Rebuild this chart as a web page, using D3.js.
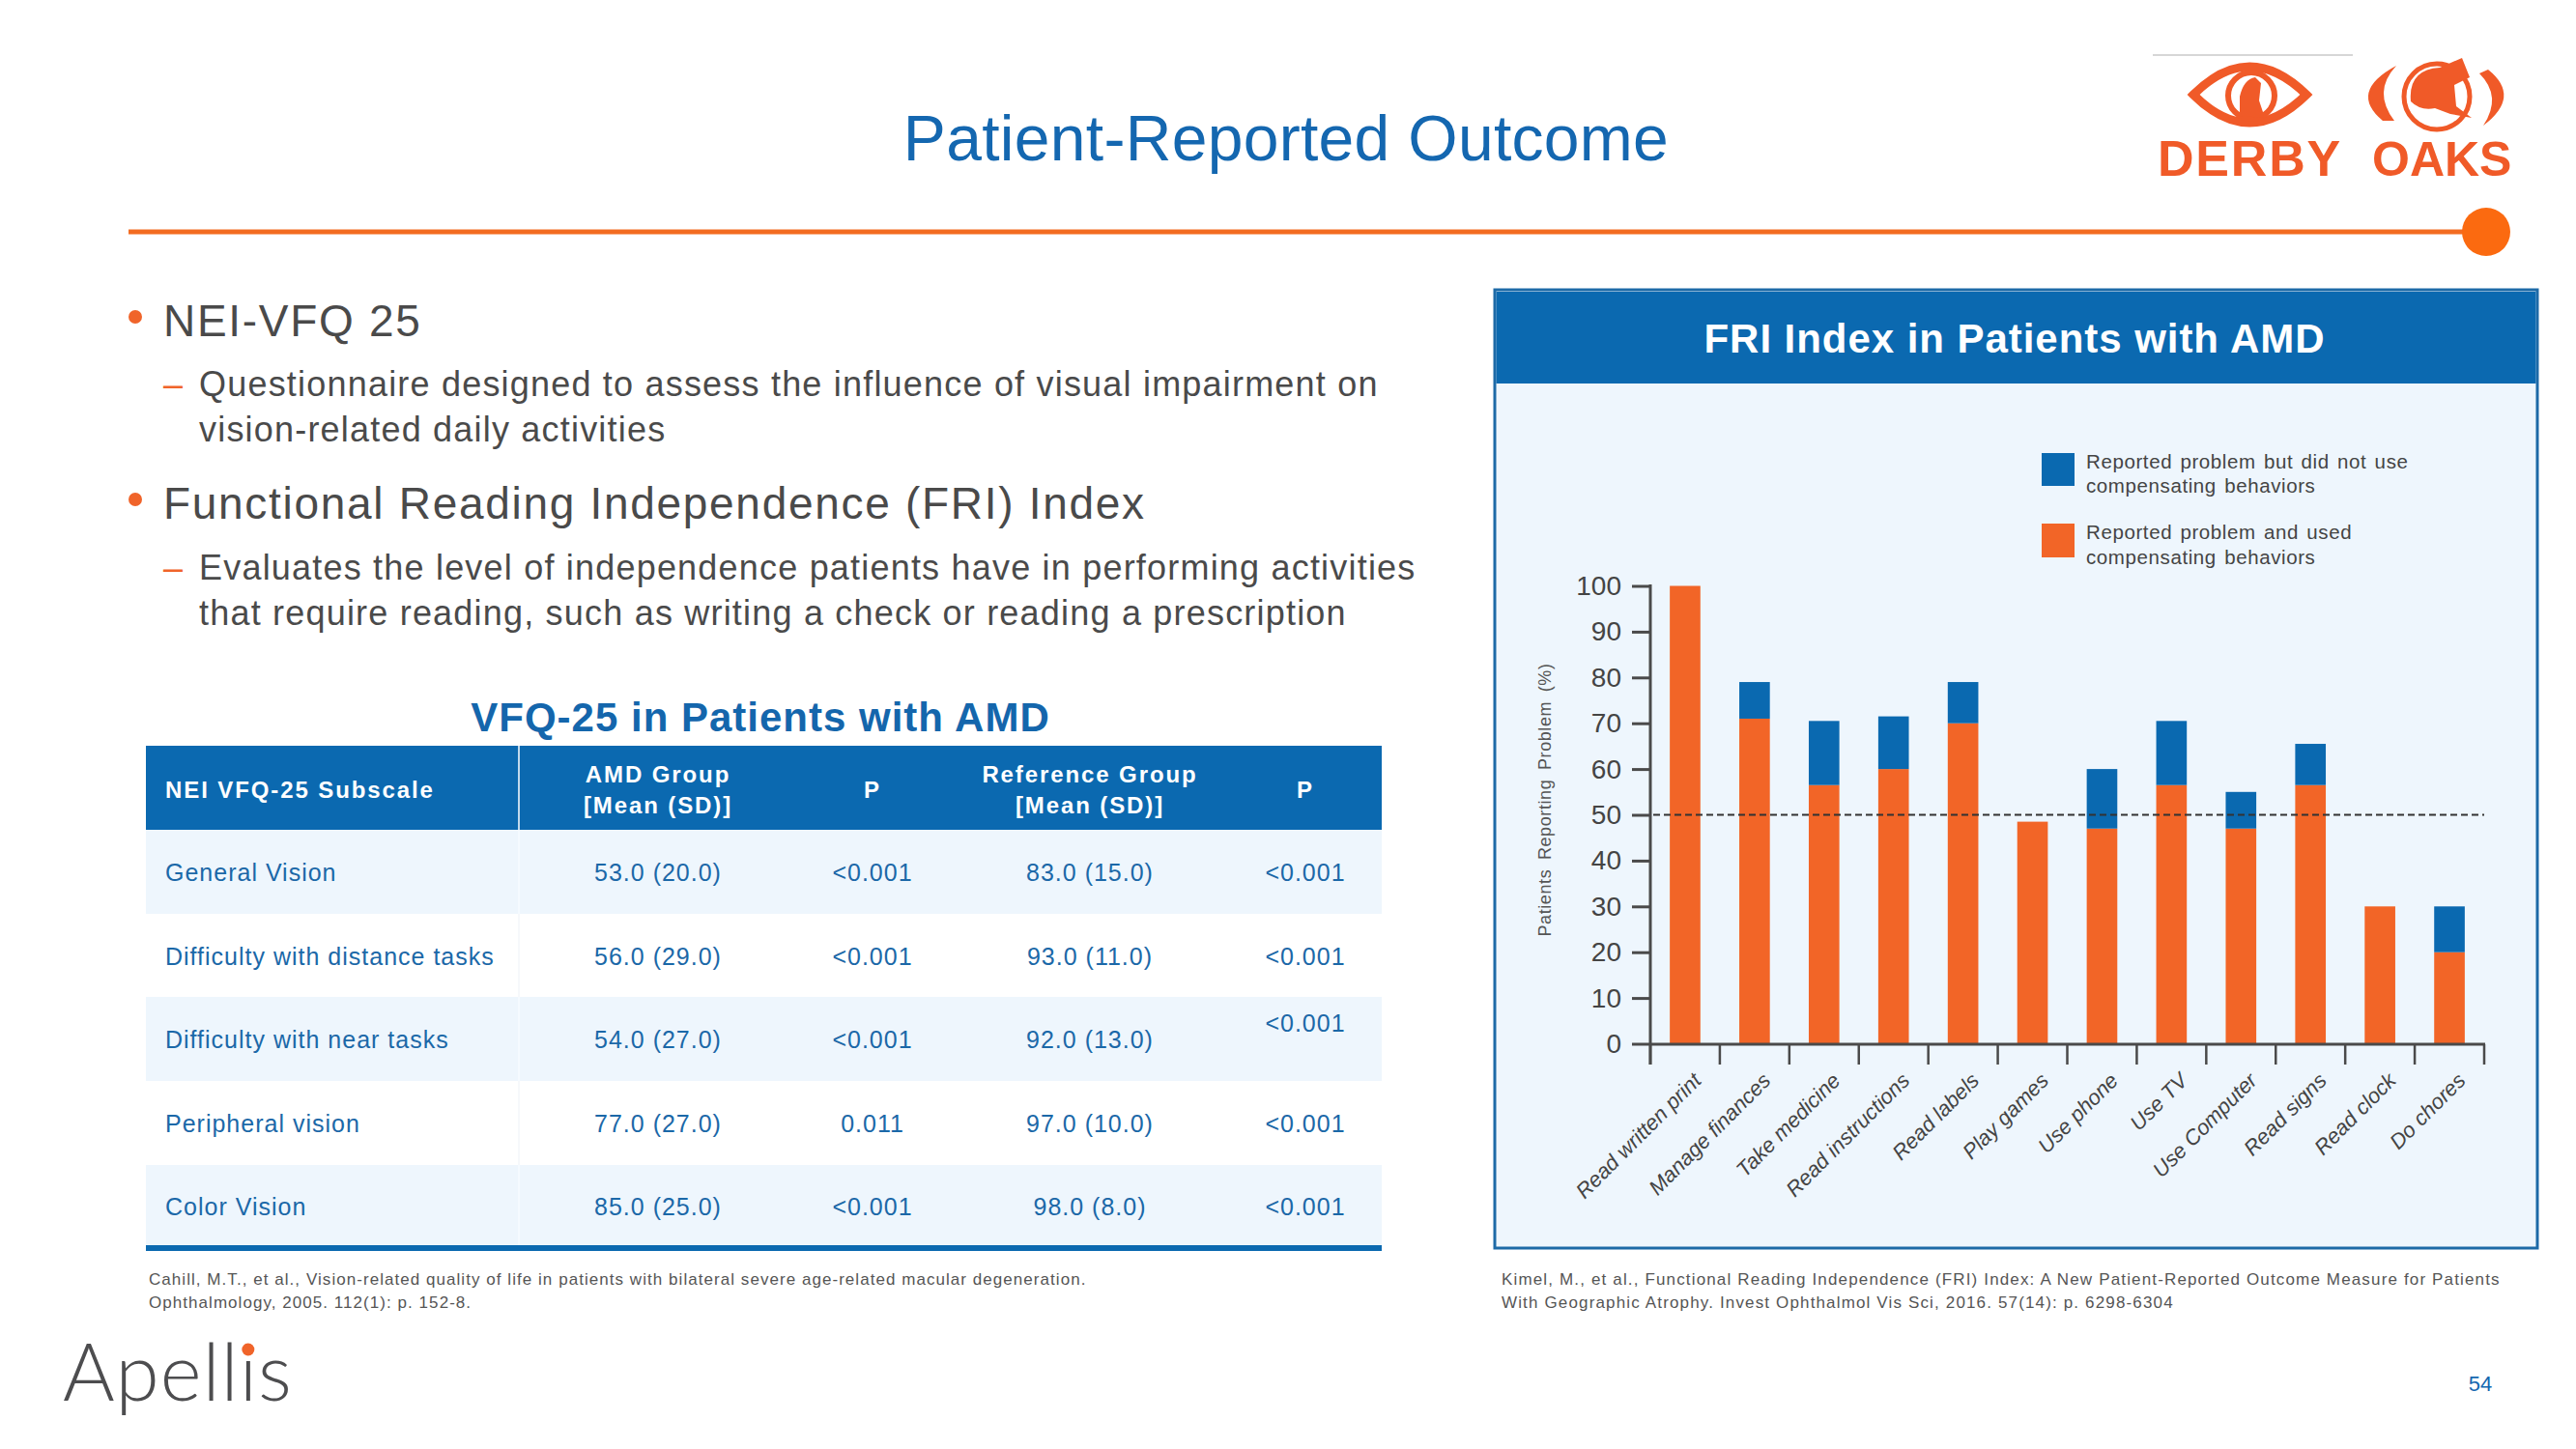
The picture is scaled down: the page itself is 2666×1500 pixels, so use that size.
<!DOCTYPE html>
<html><head><meta charset="utf-8">
<script src="https://cdn.jsdelivr.net/npm/d3@7"></script>
<style>
html,body{margin:0;padding:0;background:#fff;}
svg{display:block;}
text{font-family:"Liberation Sans",Arial,Helvetica,sans-serif;}
</style>
</head><body>
<svg id="c" width="2666" height="1500"></svg>
<script>
// ---------- DATA ----------
const categories = ["Read written print","Manage finances","Take medicine","Read instructions","Read labels","Play games","Use phone","Use TV","Use Computer","Read signs","Read clock","Do chores"];
const usedComp = [100, 71, 56.5, 60, 70, 48.5, 47, 56.5, 47, 56.5, 30, 20];   // orange
const noComp   = [0, 8, 14, 11.5, 9, 0, 13, 14, 8, 9, 0, 10];                  // blue
const yTicks = [0,10,20,30,40,50,60,70,80,90,100];
const refLine = 50;
const legendBlue = ["Reported problem  but did not use","compensating behaviors"];
const legendOrange = ["Reported problem  and used","compensating behaviors"];

const tableHeader = [["NEI VFQ-25 Subscale"],["AMD Group","[Mean (SD)]"],["P"],["Reference Group","[Mean (SD)]"],["P"]];
const subscales = ["General Vision","Difficulty with distance tasks","Difficulty with near tasks","Peripheral vision","Color Vision"];
const amdGroup = ["53.0 (20.0)","56.0 (29.0)","54.0 (27.0)","77.0 (27.0)","85.0 (25.0)"];
const pAmd = ["<0.001","<0.001","<0.001","0.011","<0.001"];
const refGroup = ["83.0 (15.0)","93.0 (11.0)","92.0 (13.0)","97.0 (10.0)","98.0 (8.0)"];
const pRef = ["<0.001","<0.001","<0.001","<0.001","<0.001"];

// ---------- STYLE ----------
const BLUE = "#0b69b0", ORANGE = "#f0642a", TXT = "#4a4a4a", TBLUE = "#1b68a8", LIGHT = "#eef6fd";
const svg = d3.select("#c");

// ---------- PAGE HEADER ----------
svg.append("text").attr("x",1331).attr("y",166).attr("text-anchor","middle")
  .attr("font-size",66).attr("fill","#1467b0").attr("letter-spacing",0.3).text("Patient-Reported Outcome");
svg.append("line").attr("x1",133).attr("x2",2560).attr("y1",240).attr("y2",240)
  .attr("stroke","#f36c21").attr("stroke-width",5);
svg.append("circle").attr("cx",2573).attr("cy",240).attr("r",25).attr("fill","#fb6a10");

// Derby Oaks logo (simplified)
const logo = svg.append("g");
logo.append("line").attr("x1",2228).attr("x2",2435).attr("y1",57).attr("y2",57).attr("stroke","#c8c8c8").attr("stroke-width",1.5);
logo.append("path").attr("d","M2270,98 Q2328,40 2387,98 Q2328,156 2270,98 Z")
  .attr("fill","none").attr("stroke","#f05a28").attr("stroke-width",9);
logo.append("circle").attr("cx",2330).attr("cy",99).attr("r",24).attr("fill","none").attr("stroke","#f05a28").attr("stroke-width",6);
logo.append("path").attr("d","M2318,120 L2318,100 Q2322,82 2334,80 L2340,86 L2338,104 L2344,122 Z").attr("fill","#f05a28");
logo.append("path").attr("d","M2466,125 Q2430,95 2480,68 Q2455,95 2478,125 Z").attr("fill","#f05a28");
logo.append("path").attr("d","M2575,72 Q2610,100 2570,130 Q2590,100 2566,76 Z").attr("fill","#f05a28");
logo.append("circle").attr("cx",2522).attr("cy",100).attr("r",34).attr("fill","none").attr("stroke","#f05a28").attr("stroke-width",5);
logo.append("path").attr("d","M2495,105 Q2492,72 2525,70 L2548,60 L2556,80 L2540,88 L2542,110 L2558,122 L2536,118 L2520,112 Q2505,115 2495,105 Z").attr("fill","#f05a28");
logo.append("text").attr("x",2233).attr("y",182).attr("font-size",52).attr("font-weight","bold")
  .attr("fill","#f05a28").attr("letter-spacing",1.8).text("DERBY");
logo.append("text").attr("x",2455).attr("y",182).attr("font-size",50).attr("font-weight","bold")
  .attr("fill","#f05a28").attr("letter-spacing",0).text("OAKS");

// ---------- BULLETS ----------
const bul = svg.append("g").attr("fill",TXT);
function bullet(y, txt){
  svg.append("circle").attr("cx",140).attr("cy",y-20).attr("r",7).attr("fill",ORANGE);
  bul.append("text").attr("x",169).attr("y",y).attr("font-size",46).attr("letter-spacing",1.7).text(txt);
}
function sub(y, lines){
  svg.append("text").attr("x",169).attr("y",y).attr("font-size",36).attr("fill",ORANGE).text("\u2013");
  lines.forEach((l,i)=> bul.append("text").attr("x",206).attr("y",y+i*47).attr("font-size",36).attr("letter-spacing",1.2).text(l));
}
bullet(348,"NEI-VFQ 25");
sub(410,["Questionnaire designed to assess the influence of visual impairment on","vision-related daily activities"]);
bullet(537,"Functional Reading Independence (FRI) Index");
sub(600,["Evaluates the level of independence patients have in performing activities","that require reading, such as writing a check or reading a prescription"]);

// ---------- TABLE ----------
svg.append("text").attr("x",787).attr("y",757).attr("text-anchor","middle").attr("font-size",42)
  .attr("font-weight","bold").attr("letter-spacing",1).attr("fill","#1466ac").text("VFQ-25 in Patients with AMD");
const tX = 151, tW = 1279, hTop = 772, hBot = 859;
const rowTops = [859, 946, 1032, 1119, 1206, 1289];
const colX = [171, 681, 903, 1128, 1351];
svg.append("rect").attr("x",tX).attr("y",hTop).attr("width",tW).attr("height",hBot-hTop).attr("fill",BLUE);
svg.append("line").attr("x1",537).attr("x2",537).attr("y1",hTop).attr("y2",hBot).attr("stroke","#ffffff").attr("stroke-width",1.5);
subscales.forEach((s,i)=>{
  svg.append("rect").attr("x",tX).attr("y",rowTops[i]).attr("width",tW).attr("height",rowTops[i+1]-rowTops[i])
    .attr("fill", i%2===0 ? LIGHT : "#ffffff");
  svg.append("line").attr("x1",537).attr("x2",537).attr("y1",rowTops[i]).attr("y2",rowTops[i+1])
    .attr("stroke", i%2===0 ? "#f7fbff" : "#f3f6fa").attr("stroke-width",1.5);
});
svg.append("rect").attr("x",tX).attr("y",1289).attr("width",tW).attr("height",6).attr("fill",BLUE);
tableHeader.forEach((h,i)=>{
  const anchor = i===0 ? "start" : "middle";
  const ys = h.length===1 ? [826] : [810, 842];
  h.forEach((line,j)=> svg.append("text").attr("x",colX[i]).attr("y",ys[j]).attr("text-anchor",anchor)
    .attr("font-size",24).attr("font-weight","bold").attr("letter-spacing",1.9).attr("fill","#ffffff").text(line));
});
const bodyBase = [912, 999, 1085, 1172, 1258];
subscales.forEach((s,i)=>{
  const cells = [s, amdGroup[i], pAmd[i], refGroup[i], pRef[i]];
  cells.forEach((c,j)=>{
    let y = bodyBase[i];
    if (i===2 && j===4) y -= 17;
    svg.append("text").attr("x",colX[j]).attr("y",y).attr("text-anchor", j===0?"start":"middle")
      .attr("font-size",25).attr("letter-spacing",1).attr("fill",TBLUE).text(c);
  });
});
const foot = svg.append("g").attr("font-size",17).attr("fill","#555");
foot.append("text").attr("x",154).attr("y",1330).attr("letter-spacing",1.05).text("Cahill, M.T., et al., Vision-related quality of life in patients with bilateral severe age-related macular degeneration.");
foot.append("text").attr("x",154).attr("y",1354).attr("letter-spacing",1.05).text("Ophthalmology, 2005. 112(1): p. 152-8.");
foot.append("text").attr("x",1554).attr("y",1330).attr("letter-spacing",1.15).text("Kimel, M., et al., Functional Reading Independence (FRI) Index: A New Patient-Reported Outcome Measure for Patients");
foot.append("text").attr("x",1554).attr("y",1354).attr("letter-spacing",1.15).text("With Geographic Atrophy. Invest Ophthalmol Vis Sci, 2016. 57(14): p. 6298-6304");

// ---------- CHART PANEL ----------
svg.append("rect").attr("x",1547).attr("y",300).attr("width",1079).attr("height",992)
  .attr("fill",LIGHT).attr("stroke","#1d6aa7").attr("stroke-width",3);
svg.append("rect").attr("x",1548.5).attr("y",302).attr("width",1076).attr("height",95).attr("fill",BLUE);
svg.append("text").attr("x",2085).attr("y",365).attr("text-anchor","middle").attr("font-size",42)
  .attr("font-weight","bold").attr("letter-spacing",0.95).attr("fill","#ffffff").text("FRI Index in Patients with AMD");

const x = d3.scaleBand().domain(categories).range([1708, 2571]).paddingInner(0.56).paddingOuter(0.28);
const y = d3.scaleLinear().domain([0,100]).range([1080.5, 606.5]);
const rows = categories.map((c,i)=>({cat:c, used:usedComp[i], no:noComp[i]}));
const stack = d3.stack().keys(["used","no"])(rows);
const colors = {used:"#f26527", no:"#0a69b0"};
const chart = svg.append("g");
stack.forEach(layer=>{
  chart.append("g").attr("fill",colors[layer.key]).selectAll("rect").data(layer).join("rect")
    .attr("x",d=>x(d.data.cat)).attr("width",x.bandwidth())
    .attr("y",d=>y(d[1])).attr("height",d=>y(d[0])-y(d[1]));
});
// dashed 50% line
chart.append("line").attr("x1",1711).attr("x2",2571).attr("y1",y(refLine)).attr("y2",y(refLine))
  .attr("stroke","#333").attr("stroke-width",2).attr("stroke-dasharray","7,4");
// y axis
const yAxis = chart.append("g").attr("transform","translate(1708,0)")
  .call(d3.axisLeft(y).tickValues(yTicks).tickSize(19).tickPadding(11).tickSizeOuter(0));
yAxis.select(".domain").remove();
yAxis.selectAll(".tick line").attr("stroke","#4a4a4a").attr("stroke-width",3);
yAxis.selectAll(".tick text").attr("font-size",28).attr("fill","#444")
  .style("font-family","'Liberation Sans',Arial,sans-serif");
chart.append("line").attr("x1",1708).attr("x2",1708).attr("y1",605).attr("y2",1102).attr("stroke","#4a4a4a").attr("stroke-width",3);
chart.append("line").attr("x1",1707).attr("x2",2572).attr("y1",1081).attr("y2",1081).attr("stroke","#4a4a4a").attr("stroke-width",3);
// x boundary ticks
const step = x.step();
d3.range(categories.length+1).forEach(i=>{
  const xx = x(categories[0]) - x.paddingOuter()*step + i*step;
  chart.append("line").attr("x1",xx).attr("x2",xx).attr("y1",1081).attr("y2",1102).attr("stroke","#4a4a4a").attr("stroke-width",2.5);
});
// x labels
chart.selectAll(".xl").data(categories).join("text")
  .attr("transform",d=>`translate(${x(d)+x.bandwidth()/2+18},1120) rotate(-45)`)
  .attr("text-anchor","end").attr("font-size",22).attr("font-style","italic").attr("fill","#444").text(d=>d);
// y label
chart.append("text").attr("transform","translate(1605,828) rotate(-90)").attr("text-anchor","middle")
  .attr("font-size",18).attr("letter-spacing",0.6).attr("word-spacing",4).attr("fill","#555")
  .text("Patients Reporting Problem (%)");
// legend
const lg = chart.append("g");
lg.append("rect").attr("x",2113).attr("y",469).attr("width",34).attr("height",34).attr("fill",colors.no);
lg.append("rect").attr("x",2113).attr("y",542).attr("width",34).attr("height",35).attr("fill",colors.used);
legendBlue.forEach((t,i)=> lg.append("text").attr("x",2159).attr("y",485+i*25).attr("font-size",20.5).attr("letter-spacing",0.6).attr("word-spacing",2).attr("fill","#444").text(t));
legendOrange.forEach((t,i)=> lg.append("text").attr("x",2159).attr("y",558+i*26).attr("font-size",20.5).attr("letter-spacing",0.6).attr("word-spacing",2).attr("fill","#444").text(t));

// ---------- FOOTER ----------
svg.append("text").attr("x",2567).attr("y",1440).attr("text-anchor","middle").attr("font-size",22)
  .attr("fill","#1467b0").text("54");
const ap = svg.append("text").attr("x",65).attr("y",1450).attr("font-size",82).attr("font-weight",300)
  .attr("letter-spacing",1.0)
  .style("font-family","Lato, 'Open Sans', sans-serif").attr("fill","#4d4d4f").text("Apell\u0131s");
try {
  const ext = ap.node().getExtentOfChar(5);
  svg.append("circle").attr("cx",ext.x+ext.width/2 - 0.5).attr("cy",1397).attr("r",6.5).attr("fill",ORANGE);
} catch(e) {
  svg.append("circle").attr("cx",257).attr("cy",1397).attr("r",6.5).attr("fill",ORANGE);
}
</script>
</body></html>
